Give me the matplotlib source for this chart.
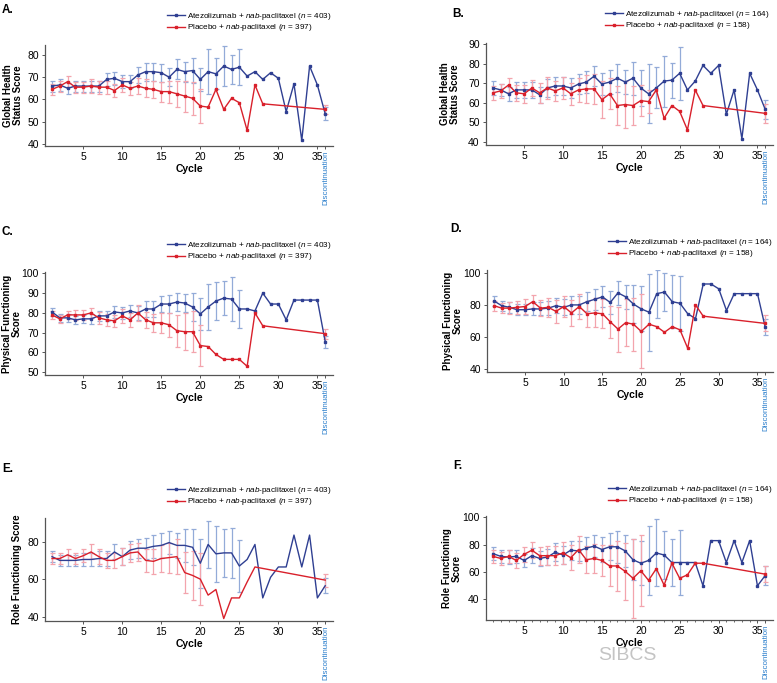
import matplotlib
matplotlib.use('Agg')
import matplotlib.pyplot as plt
from matplotlib.lines import Line2D
import numpy as np

plt.rcParams['font.family'] = ['Liberation Sans', 'DejaVu Sans']
plt.rcParams['mathtext.fontset'] = 'custom'
plt.rcParams['mathtext.rm'] = 'Liberation Sans'
plt.rcParams['mathtext.it'] = 'Liberation Sans:italic'

# ---- data ----
DISC = 36  # position of the "Discontinuation" visit

# A. Global health status, all patients
a_atezo = [66, 66.5, 65, 66, 66, 66, 66, 69, 69.5, 68, 68, 71, 72.5, 72.5, 72, 70, 73.5, 72.5, 73, 69,
           72.5, 71.5, 75, 73.5, 74.5, 70.5, 72.5, 69, 72, 69.5, 54.5, 67, 41.5, 75, 66.5]
a_atezo_err = [2.5, 2.5, 2.5, 2.5, 2.5, 2.5, 2.5, 3, 3, 3, 3, 3.5, 4, 4, 4, 4, 4.5, 4.5, 5.5, 5,
               10, 7, 9, 6.5, 8]
a_atezo_disc = (53.5, 3)
a_plac = [64.5, 66, 68, 65.5, 65.5, 66, 65.5, 65.5, 64, 66.5, 65, 66, 65, 64.5, 63.5, 63.5, 62.5, 61.5,
          60.5, 57, 56.5, 64.5, 55.5, 60.5, 58.5, 46, 66.5, 58]
a_plac_err = [2.5, 2.5, 2.5, 2.5, 2.5, 3, 3, 3, 3, 3, 3, 3.5, 4, 4, 4.5, 5, 6, 7, 7.5, 7.5]
a_plac_disc = (55.5, 2)

# B. Global health status, PD-L1+
b_atezo = [67.5, 66.5, 64.5, 66.5, 66.5, 66.5, 64, 67.5, 68.5, 68.5, 67.5, 69.5, 70.5, 73.5, 69.5, 70.5,
           72.5, 70.5, 72.5, 67.5, 64.5, 67.5, 71, 71.5, 75, 66.5, 71, 79, 75, 79, 54, 66.5, 41.5, 75, 66.5]
b_atezo_err = [3.5, 3, 3.5, 4, 4, 4, 4, 4.5, 4.5, 4.5, 5, 5, 5.5, 5, 5.5, 6, 7, 6, 8.5, 9,
               15, 10.5, 13, 9, 13.5]
b_atezo_disc = (56.5, 5)
b_plac = [65, 66, 69, 65, 64.5, 67.5, 65, 67.5, 66, 67.5, 64.5, 66.5, 67, 67, 61.5, 64.5, 58.5, 59,
          58.5, 61, 60.5, 66.5, 52, 58.5, 55.5, 46, 66.5, 58.5]
b_plac_err = [3.5, 3.5, 3.5, 4, 4.5, 4, 5, 5.5, 5, 5.5, 5.5, 6, 7, 7.5, 9.5, 8, 10, 12, 10, 8, 6]
b_plac_disc = (54.5, 5)

# C. Physical functioning, all patients
c_atezo = [80.5, 77.5, 77.5, 76.5, 77, 77, 78.5, 78.5, 80.5, 80, 81, 80, 82, 82, 84.5, 84.5, 85.5, 85,
           83, 79.5, 83, 86, 87.5, 87, 82, 82, 81, 90, 84.5, 84.5, 76.5, 86.5, 86.5, 86.5, 86.5]
c_atezo_err = [2, 2, 2, 2, 2, 2.5, 2.5, 2.5, 3, 3, 3, 3.5, 4, 4, 4, 4.5, 4.5, 4.5, 7, 8,
               11.5, 9.5, 8.5, 11, 9.5]
c_atezo_disc = (65.5, 3)
c_plac = [79, 77, 79, 79, 79, 80, 77.5, 76.5, 76, 78.5, 76.5, 80, 76.5, 75, 75, 74, 71, 70.5, 70.5,
          63.5, 63, 59, 56.5, 56.5, 56.5, 53, 80, 73.5]
c_plac_err = [2, 2, 2, 2.5, 2.5, 2.5, 3, 3, 3, 3.5, 3.5, 4, 4, 4.5, 5, 6, 8, 9.5, 10.5, 10.5]
c_plac_disc = (69.5, 2.5)

# D. Physical functioning, PD-L1+
d_atezo = [82.5, 79.5, 78.5, 77, 77, 77.5, 77.5, 78, 79.5, 78.5, 80, 80, 82, 83.5, 85, 81.5, 87.5, 85,
           80.5, 77.5, 75.5, 87, 88, 82, 81, 74.5, 71.5, 93, 93, 90, 76.5, 87, 87, 87, 87]
d_atezo_err = [3, 3, 3.5, 3.5, 3.5, 4, 4, 4.5, 4.5, 5, 5.5, 5.5, 6, 6.5, 6.5, 7, 7.5, 7.5, 12, 14,
               24, 15, 12, 16.5, 17]
d_atezo_disc = (66, 5)
d_plac = [79.5, 78, 78, 78.5, 79, 82, 78, 78.5, 76, 79, 75, 79, 74.5, 75, 74.5, 69.5, 65, 69, 68,
          63.5, 68, 66.5, 63, 66.5, 64.5, 53, 80, 73]
d_plac_err = [3, 3, 3.5, 4, 4.5, 4, 5, 6, 7, 6.5, 8, 8, 8, 9, 9, 10, 14, 14.5, 16.5, 23]
d_plac_disc = (68.5, 5)

# E. Role functioning, all patients
e_atezo = [72, 70, 70, 70, 70.5, 70.5, 71, 71, 74.5, 72, 75.5, 76.5, 76.5, 77.5, 78, 79.5, 78, 78, 77,
           68.5, 78.5, 73.5, 74, 74, 67, 70.5, 78.5, 50, 61, 66.5, 66.5, 83.5, 66.5, 83.5, 50]
e_atezo_err = [3, 3, 3, 3, 3.5, 3.5, 4, 4, 4, 4.5, 5, 5, 5.5, 6, 6.5, 6, 6.5, 9, 9.5, 13,
               12.5, 15, 13, 13.5, 14]
e_atezo_disc = (56.5, 4)
e_plac = [71, 71, 73, 71, 72.5, 74.5, 72, 70, 70, 72, 74, 74.5, 70, 69.5, 71, 71.5, 72, 63.5, 62, 60,
          51.5, 54.5, 39, 50, 50, 58.5, 66.5]
e_plac_err = [3, 3, 3, 3, 3.5, 4, 4, 4, 4, 4.5, 5, 5, 6, 6.5, 7, 8, 9.5, 11, 13, 14]
e_plac_disc = (59.5, 3.5)

# F. Role functioning, PD-L1+
f_atezo = [73.5, 71.5, 71, 71.5, 68.5, 72, 70, 71, 74.5, 72.5, 76, 75.5, 77.5, 79, 76.5, 78.5, 78.5,
           75.5, 69, 66.5, 68.5, 74, 72.5, 67, 67, 67, 67, 50, 83, 83, 67, 83, 67, 83, 50]
f_atezo_err = [4.5, 4.5, 5, 5, 5, 5.5, 5.5, 6, 6.5, 6.5, 7, 7.5, 8, 8, 9, 10, 11.5, 11.5, 15, 16,
               25, 24.5, 17.5, 17.5, 23.5]
f_atezo_disc = (57.5, 7)
f_plac = [71.5, 70, 71.5, 68.5, 73, 76, 72, 72, 72, 74, 70.5, 76.5, 69, 70, 68.5, 64.5, 64.5, 60.5,
          55.5, 61, 54, 62.5, 50.5, 66.5, 55.5, 58, 66.5, 66.5]
f_plac_err = [4.5, 5, 5, 5.5, 5.5, 6, 6.5, 7, 7, 8, 9, 10, 10, 10.5, 11, 15, 18, 21, 29, 26]
f_plac_disc = (58.5, 6)

x_ticks = [5, 10, 15, 20, 25, 30, 35]

BLUE = '#2f3f92'
BLUE_ERR = '#93abd8'
RED = '#d9202b'
RED_ERR = '#f3a4ad'
DISC_COL = '#2b7fcc'

W, H = 777, 683
fig = plt.figure(figsize=(W / 100, H / 100), dpi=100)


def px_rect(l, r, t, b):
    return [l / W, 1 - b / H, (r - l) / W, (b - t) / H]


def series(ax, vals, err, disc, col, ecol, marker, z):
    x = np.arange(1, len(vals) + 1)
    k = len(err)
    ax.errorbar(x[:k], vals[:k], yerr=err, fmt='none', ecolor=ecol, elinewidth=0.9,
                capsize=1.8, capthick=0.9, zorder=z)
    ax.errorbar([DISC], [disc[0]], yerr=[disc[1]], fmt='none', ecolor=ecol, elinewidth=0.9,
                capsize=1.8, capthick=0.9, zorder=z)
    xx = list(x) + [DISC]
    yy = list(vals) + [disc[0]]
    ax.plot(xx, yy, color=col, lw=1.0, marker=marker, ms=2.0, zorder=z + 2)


def panel(rect, ylim, yticks, atezo, atezo_err, atezo_disc, plac, plac_err, plac_disc,
          ylabel, lab_x, letter, letter_xy, leg_xy, n_a, n_p, markers=True, minor=False):
    ax = fig.add_axes(px_rect(*rect))
    mk = 's' if markers else None
    series(ax, plac, plac_err, plac_disc, RED, RED_ERR, mk, 2)
    series(ax, atezo, atezo_err, atezo_disc, BLUE, BLUE_ERR, mk, 1)
    ax.set_xlim(0.1, 37)
    ax.set_ylim(*ylim)
    ax.set_yticks(yticks)
    ax.set_xticks(x_ticks + [DISC])
    ax.set_xticklabels([str(t) for t in x_ticks] + [''])
    if minor:
        ax.set_xticks(range(1, 37), minor=True)
        ax.tick_params(axis='x', which='minor', length=1.5, width=0.6, color='#555555')
    for s in ['top', 'right']:
        ax.spines[s].set_visible(False)
    for s in ['left', 'bottom']:
        ax.spines[s].set_color('#555555')
        ax.spines[s].set_linewidth(0.9)
    ax.tick_params(axis='both', which='major', labelsize=7.5, length=2.5, width=0.7,
                   color='#555555', pad=2)
    ax.set_xlabel('Cycle', fontsize=7.5, fontweight='bold', labelpad=1)
    ax.set_ylabel(ylabel, fontsize=7, fontweight='bold', linespacing=1.0)
    ax.yaxis.set_label_coords(lab_x, 0.5)
    ax.annotate('Discontinuation', xy=(DISC, 0), xycoords=('data', 'axes fraction'),
                xytext=(0.5, -3), textcoords='offset points', rotation=90, ha='center',
                va='top', color=DISC_COL, fontsize=5.8)
    fig.text(letter_xy[0] / W, 1 - letter_xy[1] / H, letter, fontsize=8.5,
             fontweight='bold', ha='left', va='center')
    handles = [Line2D([], [], color=BLUE, lw=1.0, marker='s', ms=2.0),
               Line2D([], [], color=RED, lw=1.0, marker='s', ms=2.0)]
    labels = ['Atezolizumab + $\\mathit{nab}$-paclitaxel ($\\mathit{n}$ = %d)' % n_a,
              'Placebo + $\\mathit{nab}$-paclitaxel ($\\mathit{n}$ = %d)' % n_p]
    fig.legend(handles, labels, loc='upper left',
               bbox_to_anchor=(leg_xy[0] / W, 1 - leg_xy[1] / H),
               frameon=False, fontsize=5.9, borderpad=0, borderaxespad=0,
               handlelength=2.2, handletextpad=0.25, labelspacing=0.05)
    return ax


panel((45, 333, 45, 146), (39, 84.5), [40, 50, 60, 70, 80],
      a_atezo, a_atezo_err, a_atezo_disc, a_plac, a_plac_err, a_plac_disc,
      'Global Health\nStatus Score', -0.075, 'A.', (2, 10), (167, 11), 403, 397)
panel((486, 773, 43, 145), (38.3, 90.5), [40, 50, 60, 70, 80, 90],
      b_atezo, b_atezo_err, b_atezo_disc, b_plac, b_plac_err, b_plac_disc,
      'Global Health\nStatus Score', -0.09, 'B.', (452, 14), (605, 9), 164, 158)
panel((45, 333, 272, 375), (48.6, 100.7), [50, 60, 70, 80, 90, 100],
      c_atezo, c_atezo_err, c_atezo_disc, c_plac, c_plac_err, c_plac_disc,
      'Physical Functioning\nScore', -0.08, 'C.', (2, 232), (167, 240), 403, 397)
panel((487, 773, 270, 372), (38.3, 101.7), [40, 60, 80, 100],
      d_atezo, d_atezo_err, d_atezo_disc, d_plac, d_plac_err, d_plac_disc,
      'Physical Functioning\nScore', -0.085, 'D.', (450, 229), (608, 237), 164, 158)
panel((45, 333, 518, 621), (37.7, 92.6), [40, 60, 80],
      e_atezo, e_atezo_err, e_atezo_disc, e_plac, e_plac_err, e_plac_disc,
      'Role Functioning Score', -0.08, 'E.', (2, 469), (167, 485), 403, 397, markers=False)
panel((486, 773, 516, 620), (25, 101), [40, 60, 80, 100],
      f_atezo, f_atezo_err, f_atezo_disc, f_plac, f_plac_err, f_plac_disc,
      'Role Functioning\nScore', -0.085, 'F.', (453, 466), (608, 484), 164, 158, minor=True)

# watermark
fig.text(598 / W, 1 - 656 / H, 'SIBCS', fontsize=14, color='#c4c4c4', ha='left', va='center')

fig.savefig('out.png', dpi=100)
